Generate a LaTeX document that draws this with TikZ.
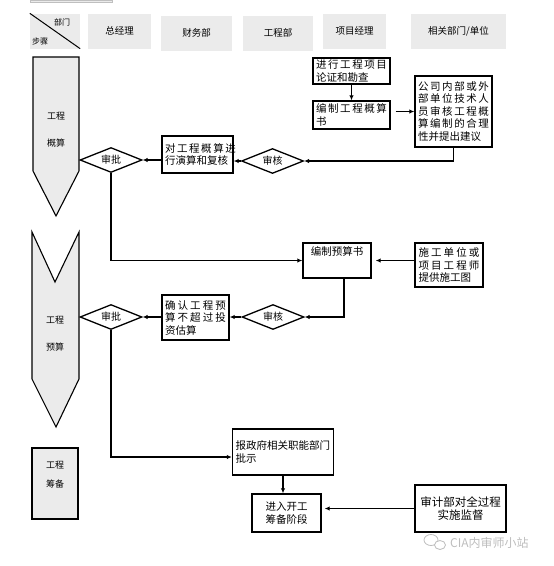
\documentclass[tikz,border=0pt]{standalone}
\usepackage{fontspec}
\setmainfont{Noto Sans CJK SC}
\usetikzlibrary{arrows.meta,shapes.geometric}
\definecolor{cellgray}{HTML}{EBEBEB}
\definecolor{markgray}{HTML}{BDBDBD}
\newcommand{\spreadln}[2]{\makebox[#1][s]{#2}}
\tikzset{
  hdrcell/.style={fill=cellgray,minimum height=35pt,inner sep=0pt,font=\fontsize{9.5}{11}\selectfont},
  stagetxt/.style={inner sep=0pt,font=\fontsize{9}{11}\selectfont},
  stageshape/.style={draw=black,fill=cellgray,line width=1.1pt,line join=miter},
  procbox/.style={rectangle,draw=black,line width=1.4pt,align=left,inner xsep=3pt,inner ysep=2pt,font=\fontsize{10.5}{12.5}\selectfont},
  chkdia/.style={diamond,draw=black,line width=1.3pt,aspect=2.4,minimum width=62pt,minimum height=25pt,inner sep=0pt,font=\fontsize{10}{11}\selectfont},
  flowarr/.style={-{Latex[length=5pt,width=4.5pt]},line width=1.3pt},
}

\begin{document}
\begin{tikzpicture}[x=1pt,y=-1pt]
  \useasboundingbox (0,0) rectangle (554,566);
  \fill[cellgray,draw=black!25] (30,0) rectangle (112,2);
  % header row
  \node[hdrcell,minimum width=50pt] (hd0) at (55,31) {};
  \draw[line width=1pt] (hd0.north west) -- (hd0.south east);
  \node[inner sep=0pt,font=\fontsize{8}{9}\selectfont] (hd0a) at (62,22) {部门};
  \node[inner sep=0pt,font=\fontsize{8}{9}\selectfont] (hd0b) at (40,41) {步骤};
  \node[hdrcell,minimum width=63pt] (hd1) at (119.5,31) {总经理};
  \node[hdrcell,minimum width=71pt] (hd2) at (196.5,33) {财务部};
  \node[hdrcell,minimum width=70pt] (hd3) at (278,33) {工程部};
  \node[hdrcell,minimum width=63pt] (hd4) at (354.5,31) {项目经理};
  \node[hdrcell,minimum width=95pt] (hd5) at (458.5,31) {相关部门/单位};
  % stages
  \draw[stageshape] (33,57) -- (79,57) -- (79,171) -- (56,216) -- (33,171) -- cycle;
  \node[stagetxt] (s1a) at (56,116) {工程};
  \node[stagetxt] (s1b) at (56,143) {概算};
  \draw[stageshape] (32,232) -- (55,282) -- (79,232) -- (79,379) -- (56,427) -- (32,379) -- cycle;
  \node[stagetxt] (s2a) at (55,320) {工程};
  \node[stagetxt] (s2b) at (55,347) {预算};
  \draw[stageshape] (32,448) rectangle (78,519);
  \node[stagetxt] (s3a) at (55,465) {工程};
  \node[stagetxt] (s3b) at (55,484) {筹备};
  % flow
  \node[procbox,minimum width=77pt,minimum height=26pt] (a1) at (351.5,71)
    {\spreadln{71pt}{进 行 工 程 项 目}\\论证和勘查};
  \node[procbox,minimum width=77pt,minimum height=28pt] (a2) at (351.5,115)
    {\spreadln{71pt}{编 制 工 程 概 算}\\书};
  \node[procbox,minimum width=77pt,minimum height=71pt] (a3) at (453.5,111.5)
    {\spreadln{71pt}{公 司 内 部 或 外}\\\spreadln{71pt}{部 单 位 技 术 人}\\\spreadln{71pt}{员 审 核 工 程 概}\\\spreadln{71pt}{算 编 制 的 合 理}\\性并提出建议};
  \node[chkdia] (ck1) at (272.5,161) {审核};
  \node[procbox,minimum width=71pt,minimum height=37pt] (b1) at (197.5,154.5)
    {\spreadln{65pt}{对 工 程 概 算 进}\\行演算和复核};
  \node[chkdia] (ap1) at (111,160) {审批};
  \node[procbox,align=center,minimum width=68pt,minimum height=35pt,text height=10pt,text depth=20pt] (c1) at (337,260.5) {编制预算书};
  \node[procbox,minimum width=68pt,minimum height=44pt] (c2) at (449,265)
    {\spreadln{61pt}{施 工 单 位 或}\\\spreadln{61pt}{项 目 工 程 师}\\提供施工图};
  \node[chkdia] (ck2) at (273,317) {审核};
  \node[procbox,minimum width=67pt,minimum height=45pt] (d1) at (195.5,317.5)
    {\spreadln{61pt}{确 认 工 程 预}\\\spreadln{61pt}{算 不 超 过 投}\\资估算};
  \node[chkdia] (ap2) at (111,317) {审批};
  \node[procbox,text width=95pt,inner xsep=3pt,minimum height=46pt] (e1) at (283,452)
    {报政府相关职能部门\\批示};
  \node[procbox,align=center,minimum width=69pt,minimum height=38pt] (e2) at (286.5,513)
    {进入开工\\筹备阶段};
  \node[procbox,align=center,minimum width=91pt,minimum height=47pt,font=\fontsize{11.5}{13}\selectfont] (e3) at (460.5,508.5)
    {审计部对全过程\\实施监督};
  \draw[flowarr] (a1) -- (a2);
  \draw[flowarr,shorten <=5pt] (a3.west -| a2.east) -- (a3.west);
  \draw[flowarr] (a3.south) |- (ck1.east);
  \draw[flowarr] (ck1.west) -- (ck1.west -| b1.east);
  \draw[flowarr] (b1.west |- ap1.east) -- (ap1.east);
  \draw[flowarr] (ap1.south) |- (c1.west);
  \draw[flowarr,shorten >=4pt] (c2.west |- c1.east) -- (c1.east);
  \draw[flowarr] ([xshift=7pt]c1.south) |- (ck2.east);
  \draw[flowarr] (ck2.west) -- (ck2.west -| d1.east);
  \draw[flowarr] (d1.west |- ap2.east) -- (ap2.east);
  \draw[flowarr] (ap2.south) |- ([yshift=-5pt]e1.west);
  \draw[flowarr] (e1.south) -- (e1.south |- e2.north);
  \draw[flowarr,shorten >=3pt] (e3.west) -- (e3.west -| e2.east);
  % watermark
  \draw[markgray,line width=0.8pt] (431,540) ellipse (7pt and 5.5pt);
  \draw[markgray,line width=0.8pt,fill=white] (440,545) ellipse (5.5pt and 4.5pt);
  \node[text=markgray,inner sep=0pt,anchor=west,font=\fontsize{12}{14}\selectfont] (wm) at (450,543) {CIA内审师小站};
\end{tikzpicture}
\end{document}
